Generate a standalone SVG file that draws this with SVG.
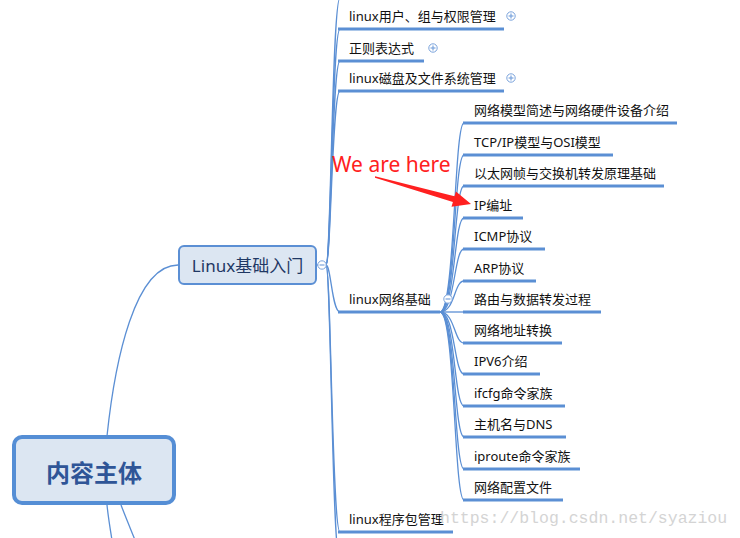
<svg xmlns="http://www.w3.org/2000/svg" width="740" height="538" viewBox="0 0 740 538">
<style>
.c{fill:none;stroke:#5b8fd4;stroke-width:1.3}
.u{stroke:#5b8fd4;stroke-width:3}
.t{font-family:'Noto Sans','Noto Sans CJK SC',sans-serif;font-size:13px;fill:#111}
.btn{fill:#fff;stroke:#7aa3dc;stroke-width:1}
.sym{stroke:#7aa3dc;stroke-width:1.2}
</style>
<rect width="740" height="538" fill="#fff"/>
<g id="connectors">
<path class="c" d="M107,436 C115,360 135,265 178,265"/>
<path class="c" d="M107,505 C108,515 110,528 112,540"/>
<path class="c" d="M121,505 C126,518 131,530 135,540"/>
<path class="c" d="M317,265 L326,265"/>
<path class="c" d="M326,265 C331,265 332,-2 340,-2"/>
<path class="c" d="M326,265 C331,265 332,29 340,29"/>
<path class="c" d="M326,265 C331,265 332,61 340,61"/>
<path class="c" d="M326,265 C331,265 332,91 340,91"/>
<path class="c" d="M326,265 C331,265 332,312 340,312"/>
<path class="c" d="M326,265 C331,265 332,532 340,532"/>
<path class="c" d="M326,265 C331,265 332,563 340,563"/>
<path class="c" d="M440,312 C455,312 454,123 464,123"/>
<path class="c" d="M440,312 C455,312 454,155 464,155"/>
<path class="c" d="M440,312 C455,312 454,186 464,186"/>
<path class="c" d="M440,312 C455,312 454,218 464,218"/>
<path class="c" d="M440,312 C455,312 454,249 464,249"/>
<path class="c" d="M440,312 C455,312 454,281 464,281"/>
<path class="c" d="M440,312 L464,312"/>
<path class="c" d="M440,312 C455,312 454,343 464,343"/>
<path class="c" d="M440,312 C455,312 454,374 464,374"/>
<path class="c" d="M440,312 C455,312 454,406 464,406"/>
<path class="c" d="M440,312 C455,312 454,437 464,437"/>
<path class="c" d="M440,312 C455,312 454,469 464,469"/>
<path class="c" d="M440,312 C455,312 454,500 464,500"/>
</g>
<g id="root">
<rect x="14" y="437" width="160" height="66" rx="8" fill="#dce6f2" stroke="#558ed5" stroke-width="4"/>
<text x="94" y="482" text-anchor="middle" font-family="'Noto Sans CJK SC',sans-serif" font-size="24" font-weight="bold" fill="#2f5597">内容主体</text>
</g>
<g id="linux-basic">
<rect x="179" y="246" width="137" height="38" rx="5" fill="#dce6f2" stroke="#5b8fd4" stroke-width="2"/>
<text x="247.5" y="272" text-anchor="middle" font-family="'Noto Sans','Noto Sans CJK SC',sans-serif" font-size="17" fill="#1f3864">Linux基础入门</text>
<circle class="btn" cx="322" cy="265" r="4.2"/>
<line class="sym" x1="319.5" y1="265" x2="324.5" y2="265"/>
</g>
<g id="l2-users">
<line class="u" x1="338" y1="29" x2="504" y2="29"/>
<text class="t" x="349" y="21">linux用户、组与权限管理</text>
<circle class="btn" cx="511" cy="16" r="4.2"/>
<line class="sym" x1="508.5" y1="16" x2="513.5" y2="16"/><line class="sym" x1="511" y1="13.5" x2="511" y2="18.5"/>
</g>
<g id="l2-regex">
<line class="u" x1="338" y1="61" x2="424" y2="61"/>
<text class="t" x="349" y="53">正则表达式</text>
<circle class="btn" cx="433" cy="48" r="4.2"/>
<line class="sym" x1="430.5" y1="48" x2="435.5" y2="48"/><line class="sym" x1="433" y1="45.5" x2="433" y2="50.5"/>
</g>
<g id="l2-disk">
<line class="u" x1="338" y1="91" x2="504" y2="91"/>
<text class="t" x="349" y="83">linux磁盘及文件系统管理</text>
<circle class="btn" cx="511" cy="78" r="4.2"/>
<line class="sym" x1="508.5" y1="78" x2="513.5" y2="78"/><line class="sym" x1="511" y1="75.5" x2="511" y2="80.5"/>
</g>
<g id="l2-network">
<line class="u" x1="338" y1="312" x2="440" y2="312"/>
<text class="t" x="349" y="304">linux网络基础</text>
<circle class="btn" cx="448" cy="299" r="4.2"/>
<line class="sym" x1="445.5" y1="299" x2="450.5" y2="299"/>
</g>
<g id="l2-package">
<line class="u" x1="338" y1="532" x2="453" y2="532"/>
<text class="t" x="349" y="524">linux程序包管理</text>
</g>
<g id="n1"><line class="u" x1="463" y1="123" x2="677" y2="123"/><text class="t" x="474" y="115">网络模型简述与网络硬件设备介绍</text></g>
<g id="n2"><line class="u" x1="463" y1="155" x2="613" y2="155"/><text class="t" x="474" y="147">TCP/IP模型与OSI模型</text></g>
<g id="n3"><line class="u" x1="463" y1="186" x2="664" y2="186"/><text class="t" x="474" y="178">以太网帧与交换机转发原理基础</text></g>
<g id="n4"><line class="u" x1="463" y1="218" x2="523" y2="218"/><text class="t" x="474" y="210">IP编址</text></g>
<g id="n5"><line class="u" x1="463" y1="249" x2="545" y2="249"/><text class="t" x="474" y="241">ICMP协议</text></g>
<g id="n6"><line class="u" x1="463" y1="281" x2="536" y2="281"/><text class="t" x="474" y="273">ARP协议</text></g>
<g id="n7"><line class="u" x1="463" y1="312" x2="601" y2="312"/><text class="t" x="474" y="304">路由与数据转发过程</text></g>
<g id="n8"><line class="u" x1="463" y1="343" x2="562" y2="343"/><text class="t" x="474" y="335">网络地址转换</text></g>
<g id="n9"><line class="u" x1="463" y1="374" x2="540" y2="374"/><text class="t" x="474" y="366">IPV6介绍</text></g>
<g id="n10"><line class="u" x1="463" y1="406" x2="565" y2="406"/><text class="t" x="474" y="398">ifcfg命令家族</text></g>
<g id="n11"><line class="u" x1="463" y1="437" x2="566" y2="437"/><text class="t" x="474" y="429">主机名与DNS</text></g>
<g id="n12"><line class="u" x1="463" y1="469" x2="580" y2="469"/><text class="t" x="474" y="461">iproute命令家族</text></g>
<g id="n13"><line class="u" x1="463" y1="500" x2="563" y2="500"/><text class="t" x="474" y="492">网络配置文件</text></g>
<g id="annotation">
<text x="332" y="171.5" font-family="'Noto Sans',sans-serif" font-size="21" fill="#ff2020">We are here</text>
<polygon points="375,176.3 454.5,196.2 455.9,191.4 471,204 451.5,206.8 452.9,202 375,177.7" fill="#ff2020"/>
</g>
<text x="440" y="523" font-family="'Liberation Mono',monospace" font-size="16.5" fill="#d4d4d4">https://blog.csdn.net/syaziou</text>
</svg>
